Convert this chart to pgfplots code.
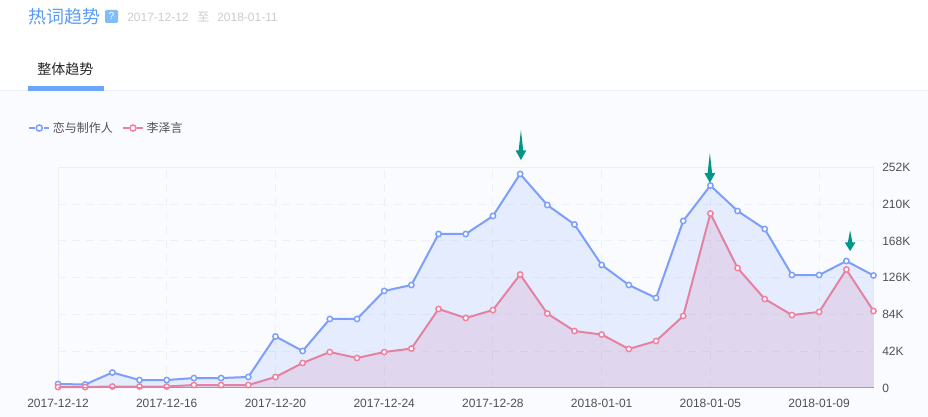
\documentclass[border=0pt]{standalone}
\usepackage{pgfplots}
\pgfplotsset{compat=1.18}
\usepackage{fontspec}
\setmainfont{Liberation Sans}
\newfontfamily\cjk{Noto Sans CJK SC}
\definecolor{pagebg}{HTML}{FAFBFE}
\definecolor{gridc}{HTML}{EDF0FA}
\definecolor{blueline}{HTML}{7C9FFB}
\definecolor{redline}{HTML}{E482A3}
\definecolor{redmark}{HTML}{F27F9E}
\definecolor{bluefill}{HTML}{7B9FFF}
\definecolor{redfill}{HTML}{CC80AA}
\definecolor{teal0}{HTML}{009688}
\definecolor{ticktext}{HTML}{505050}
\definecolor{titleblue}{HTML}{5A9CF8}
\definecolor{tabblue}{HTML}{6BA5FC}
\definecolor{iconblue}{HTML}{82BDFB}
\pgfdeclareplotmark{downarrow}{%
  \pgfpathmoveto{\pgfqpoint{0pt}{22.5pt}}%
  \pgfpathlineto{\pgfqpoint{1.7pt}{7.2pt}}%
  \pgfpathlineto{\pgfqpoint{4pt}{7.2pt}}%
  \pgfpathlineto{\pgfqpoint{0pt}{0pt}}%
  \pgfpathlineto{\pgfqpoint{-4pt}{7.2pt}}%
  \pgfpathlineto{\pgfqpoint{-1.7pt}{7.2pt}}%
  \pgfpathclose
  \pgfusepathqfill
}
\pgfdeclareplotmark{downarrowsmall}{%
  \pgfpathmoveto{\pgfqpoint{0pt}{15.5pt}}%
  \pgfpathlineto{\pgfqpoint{1.7pt}{6.5pt}}%
  \pgfpathlineto{\pgfqpoint{4pt}{6.5pt}}%
  \pgfpathlineto{\pgfqpoint{0pt}{0pt}}%
  \pgfpathlineto{\pgfqpoint{-4pt}{6.5pt}}%
  \pgfpathlineto{\pgfqpoint{-1.7pt}{6.5pt}}%
  \pgfpathclose
  \pgfusepathqfill
}
\pgfplotstableread{
d blue red
0 4.6 1.1
1 4.0 1.1
2 17.7 1.7
3 9.1 1.7
4 9.1 1.7
5 11.4 3.4
6 11.4 3.4
7 12.6 3.4
8 58.9 12.6
9 42.3 28.6
10 78.9 41.1
11 78.9 34.3
12 110.9 41.1
13 117.7 45.1
14 176.0 90.3
15 176.0 80.0
16 196.6 89.1
17 244.6 129.7
18 209.1 85.1
19 186.9 65.1
20 140.6 61.1
21 117.7 44.6
22 102.9 53.7
23 190.9 82.3
24 231.4 199.4
25 202.3 137.1
26 181.7 101.7
27 129.1 83.4
28 129.1 86.9
29 145.1 135.4
30 128.6 88.0
}\trend
\begin{document}
\begin{tikzpicture}[x=0.75pt,y=0.75pt]
\path[use as bounding box,fill=white] (0,0) rectangle (928,417);
\fill[pagebg] (0,0) rectangle (928,326);
\fill[gridc] (0,325.5) rectangle (928,326.5);
\fill[tabblue] (28,326) rectangle (104,331);
\node[anchor=west,inner sep=0pt,text=titleblue] at (28,400) {\fontsize{13.5}{16}\selectfont\cjk 热词趋势};
\fill[iconblue,rounded corners=1pt] (105,394) rectangle (118,407);
\node[text=white,inner sep=0pt] at (111.5,400.5) {\fontsize{7.5}{9}\selectfont ?};
\node[anchor=west,inner sep=0pt,text=black!20] at (127,400) {\fontsize{9}{11}\selectfont 2017-12-12};
\node[anchor=west,inner sep=0pt,text=black!20] at (197,400) {\fontsize{9}{11}\selectfont\cjk 至};
\node[anchor=west,inner sep=0pt,text=black!20] at (217,400) {\fontsize{9}{11}\selectfont 2018-01-11};
\node[anchor=west,inner sep=0pt,text=black!85] at (37,348) {\fontsize{10.5}{13}\selectfont\cjk 整体趋势};
\begin{axis}[
  at={(43.5pt,21.75pt)},anchor=south west,
  scale only axis,width=611.625pt,height=165.375pt,
  xmin=0,xmax=30,ymin=0,ymax=252,
  clip=false,
  axis line style={draw=gridc,line width=0.75pt},
  major tick length=0pt,
  xtick={0,4,...,28},
  xticklabels={2017-12-12,2017-12-16,2017-12-20,2017-12-24,2017-12-28,2018-01-01,2018-01-05,2018-01-09},
  ytick={0,42,...,252},
  yticklabels={0,42K,84K,126K,168K,210K,252K},
  yticklabel pos=right,
  tick label style={font=\fontsize{9}{11}\selectfont,text=ticktext},
  yticklabel style={anchor=west,inner sep=0pt,xshift=6.4pt},
  xticklabel style={inner sep=0pt,yshift=-14.5pt,anchor=base},
  grid=major,
  grid style={draw=gridc,line width=0.75pt,dash pattern=on 6pt off 4.5pt},
  legend style={draw=none,fill=none,at={(axis description cs:-0.0368,1.179)},anchor=west,inner sep=0pt,
    font=\fontsize{9}{11}\selectfont\cjk,text=ticktext,
    /tikz/every even column/.append style={column sep=4.8pt}},
  legend columns=2,
  legend cell align=left,
  legend image code/.code={%
    \draw[#1,mark=none] (0pt,0pt)--(4.2pt,0pt) (10.8pt,0pt)--(15pt,0pt);
    \draw[#1,mark size=2.3pt] plot coordinates {(7.5pt,0pt)};
  },
]
\addplot[draw=none,fill=bluefill,fill opacity=0.16,forget plot] table[x=d,y=blue]{\trend} \closedcycle;
\addplot[draw=none,fill=redfill,fill opacity=0.2,forget plot] table[x=d,y=red]{\trend} \closedcycle;
\addplot[blueline,line width=1.5pt,mark=*,mark size=2pt,mark options={fill=white,line width=1.1pt,draw=blueline}] table[x=d,y=blue]{\trend};
\addlegendentry{恋与制作人}
\addplot[redline,line width=1.5pt,mark=*,mark size=2pt,mark options={fill=white,line width=1.1pt,draw=redmark}] table[x=d,y=red]{\trend};
\addlegendentry{李泽言}
\addplot[only marks,mark=downarrow,teal0,forget plot] coordinates {(17.03,260.5)(23.98,234.5)};
\addplot[only marks,mark=downarrowsmall,teal0,forget plot] coordinates {(29.14,156.5)};
\end{axis}
\draw[blueline,line width=0.75pt] (58,29)--(873.5,29);
\end{tikzpicture}
\end{document}
